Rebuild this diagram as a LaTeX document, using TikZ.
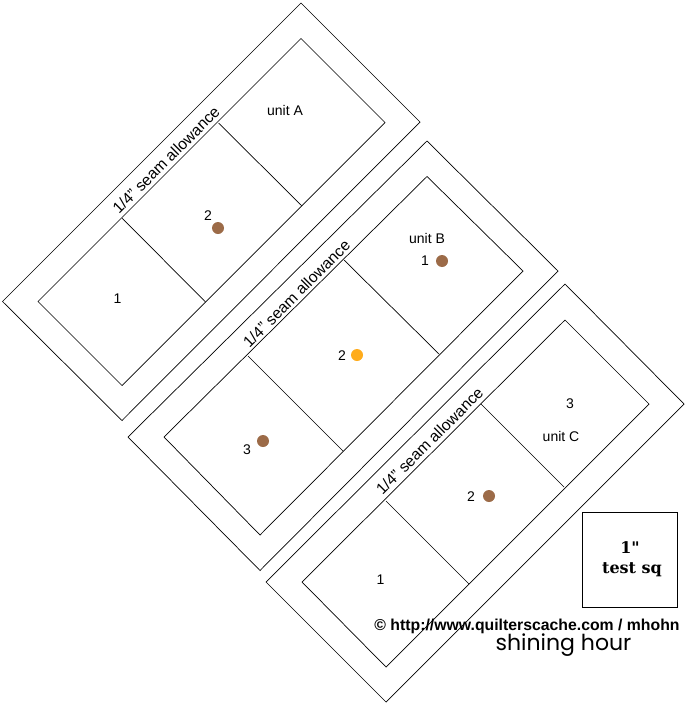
\documentclass[tikz,border=0pt]{standalone}
\usepackage{fontspec}
\setmainfont{Liberation Sans}
\newfontfamily\testfont{DejaVu Serif}
\newfontfamily\namefont{Poppins}
\definecolor{dotbrown}{RGB}{156,107,72}
\definecolor{dotorange}{RGB}{255,172,28}
\tikzset{
  seamline/.style={draw=black,line width=0.7pt},
  numtext/.style={inner sep=0pt,font=\fontsize{14}{16}\selectfont},
  seamtext/.style={inner sep=0pt,rotate=45,font=\fontsize{15.7}{17}\selectfont},
  dot/.style={circle,inner sep=0pt,minimum size=12pt},
  testtext/.style={inner sep=0pt,font=\testfont\bfseries\fontsize{16}{18}\selectfont},
}
\begin{document}
\begin{tikzpicture}[x=1pt,y=-1pt]
\useasboundingbox (0,0) rectangle (687,704);
% unit A
\draw [seamline] (2.5,301.5) -- (301,3) -- (420,122) -- (122,420.5) -- cycle;
\draw [seamline] (38,301.5) -- (301,38.5) -- (385,122.5) -- (122,385.5) -- cycle;
\draw [seamline] (122,218) -- (205.5,302);
\draw [seamline] (218.5,123) -- (302,206);
\node [seamtext] (seamA) at (166,160) {1/4" seam allowance};
\node [numtext] (labelA) at (285,110) {unit A};
\node [numtext] (numAa) at (117.5,298.5) {1};
\node [numtext] (numAb) at (208,215.5) {2};
\node [dot,fill=dotbrown] (dotAb) at (218,228) {};
% unit B
\draw [seamline] (128,437) -- (427,141) -- (558,271) -- (260,570.5) -- cycle;
\draw [seamline] (164,437) -- (427,176.5) -- (523,271) -- (260,535) -- cycle;
\draw [seamline] (344,260) -- (439,354);
\draw [seamline] (248,356) -- (343,451);
\node [seamtext] (seamB) at (296.5,293.5) {1/4" seam allowance};
\node [numtext] (labelB) at (427,238) {unit B};
\node [numtext] (numBa) at (425,260.5) {1};
\node [dot,fill=dotbrown] (dotBa) at (442,261) {};
\node [numtext] (numBb) at (342,355.5) {2};
\node [dot,fill=dotorange] (dotBb) at (357,355) {};
\node [numtext] (numBc) at (247,449.5) {3};
\node [dot,fill=dotbrown] (dotBc) at (263,441) {};
% unit C
\draw [seamline] (266,582) -- (565,284) -- (684,404) -- (386,702) -- cycle;
\draw [seamline] (302,582) -- (565,320) -- (649,404) -- (386,667) -- cycle;
\draw [seamline] (481,404) -- (564,487);
\draw [seamline] (386,501) -- (469,584);
\node [seamtext] (seamC) at (429.5,441) {1/4" seam allowance};
\node [numtext] (labelC) at (561,436) {unit C};
\node [numtext] (numCa) at (380.5,579.5) {1};
\node [numtext] (numCb) at (471,496.5) {2};
\node [dot,fill=dotbrown] (dotCb) at (489,496) {};
\node [numtext] (numCc) at (570,403.5) {3};
% test square
\node [draw,line width=0.9pt,minimum size=95pt,inner sep=0pt] (testsq) at (630,560) {};
\node [testtext] (testa) at (630,548) {1"};
\node [testtext] (testb) at (632,570) {test sq};
% credits
\node [inner sep=0pt,font=\bfseries\fontsize{15.8}{18}\selectfont] (credit) at (527,626) {© http://www.quilterscache.com / mhohn};
\node [inner sep=0pt,font=\namefont\fontsize{22}{24}\selectfont] (quilt) at (563.5,645) {shining hour};
\end{tikzpicture}
\end{document}
